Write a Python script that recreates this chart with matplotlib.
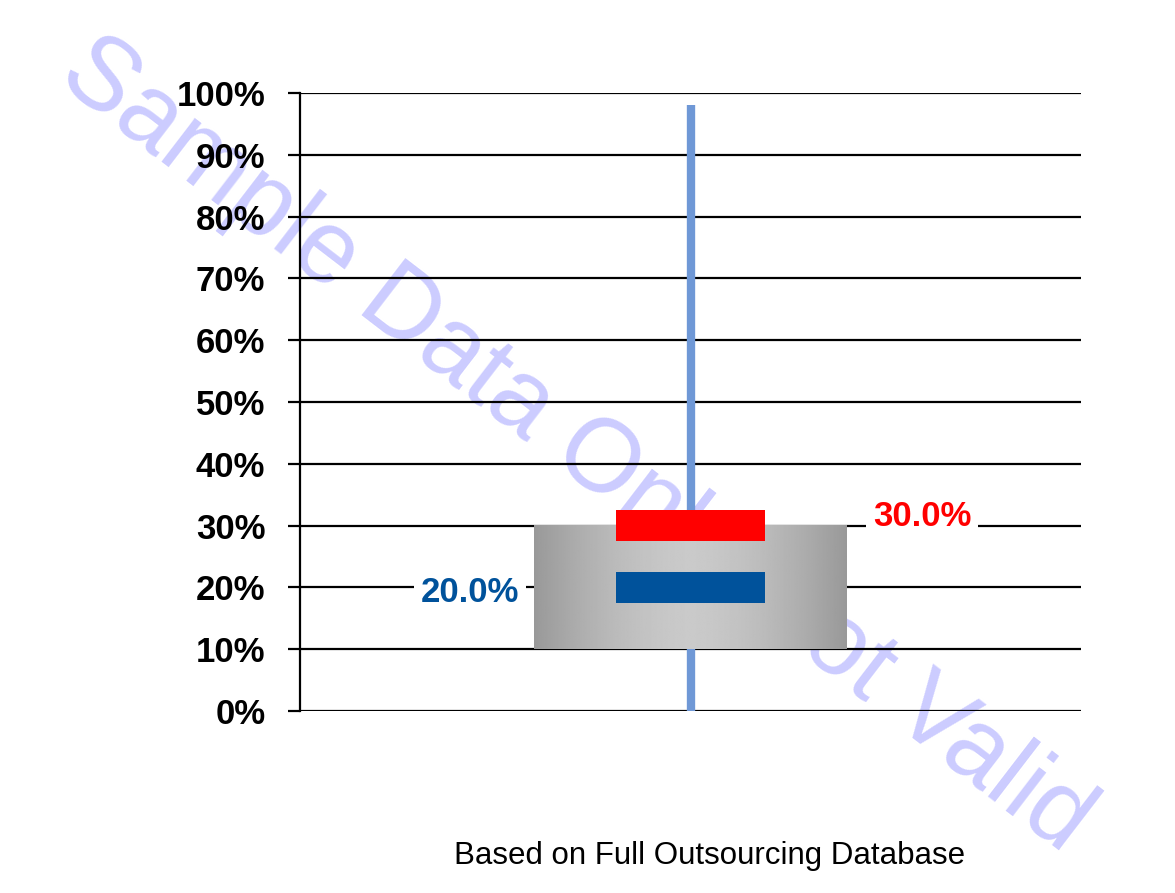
import numpy as np
import matplotlib
matplotlib.use('Agg')
import matplotlib.pyplot as plt

plt.rcParams['font.family'] = ['Liberation Sans', 'DejaVu Sans']

# Data
categories = ['Full Outsourcing']
whisker_low = [0.0]
whisker_high = [98.0]
box_low = [10.0]
box_high = [30.0]
marker_red = [30.0]
marker_blue = [20.0]
label_red = ['30.0%']
label_blue = ['20.0%']
y_ticks = [0, 10, 20, 30, 40, 50, 60, 70, 80, 90, 100]
y_tick_labels = ['0%', '10%', '20%', '30%', '40%', '50%', '60%', '70%', '80%', '90%', '100%']
footer = 'Based on Full Outsourcing Database'
watermark = 'Sample Data Only Not Valid'

fig = plt.figure(figsize=(11.75, 8.93), dpi=100)
ax = fig.add_axes([300 / 1175, 182 / 893, 781 / 1175, 618 / 893])
ax.patch.set_alpha(0)

ax.set_xlim(0, 2)
ax.set_ylim(0, 100)

# horizontal grid lines
for t in y_ticks:
    ax.axhline(t, color='black', lw=1.6, zorder=1)

for i, cat in enumerate(categories):
    x = i + 1
    # whisker
    ax.plot([x, x], [whisker_low[i], whisker_high[i]], color='#6f98d6', lw=6,
            solid_capstyle='butt', zorder=2)
    # gradient box (dark edges, light center)
    half = 0.4
    g = np.linspace(-1, 1, 256)
    grad = 0.6 + 0.19 * (1 - np.abs(g) ** 1.6)
    img = np.tile(grad, (2, 1))
    ax.imshow(img, cmap='gray', vmin=0, vmax=1, aspect='auto',
              extent=[x - half, x + half, box_low[i], box_high[i]],
              interpolation='bilinear', zorder=3)
    # markers
    bw = 0.384
    bh = 5.0
    ax.bar(x, bh, bottom=marker_red[i] - bh / 2, width=bw, color='#ff0000', zorder=4)
    ax.bar(x, bh, bottom=marker_blue[i] - bh / 2, width=bw, color='#00529b', zorder=4)
    # value labels
    ax.text(x + 0.593, marker_red[i] + 1.4, label_red[i], color='#ff0000', fontsize=25,
            fontweight='bold', ha='center', va='center', zorder=5,
            bbox=dict(facecolor='white', edgecolor='none', pad=5))
    ax.text(x - 0.565, marker_blue[i] - 0.9, label_blue[i], color='#00529b', fontsize=25,
            fontweight='bold', ha='center', va='center', zorder=5,
            bbox=dict(facecolor='white', edgecolor='none', pad=5))

ax.set_xticks([])
ax.set_yticks(y_ticks)
ax.set_yticklabels(y_tick_labels, fontsize=25, fontweight='bold')
ax.tick_params(axis='y', length=9, width=1.6, pad=16)
for side in ['top', 'right', 'bottom']:
    ax.spines[side].set_visible(False)
ax.spines['left'].set_linewidth(1.6)
ax.spines['left'].set_zorder(1)

fig.text(710 / 1175, 1 - 856 / 893, footer, fontsize=22.5, ha='center', va='center')

fig.text(0.49, 0.5, watermark, fontsize=74, color='#ccccff', rotation=-37.5,
         ha='center', va='center', rotation_mode='anchor', zorder=-1)

fig.savefig('out.png', dpi=100, facecolor='white')
